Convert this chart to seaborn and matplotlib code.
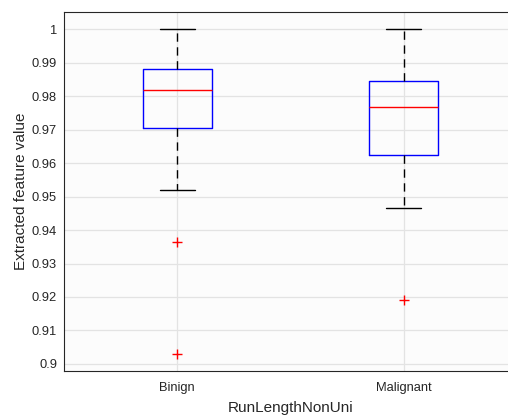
import numpy as np
import pandas as pd
import matplotlib
matplotlib.use("Agg")
import matplotlib.pyplot as plt
import seaborn as sns

categories = ["Binign", "Malignant"]
lower_whisker = [0.9519, 0.9466]
q1 = [0.9705, 0.9624]
median = [0.9818, 0.9767]
q3 = [0.9881, 0.9845]
upper_whisker = [1.0, 1.0]
outliers_binign = [0.9364, 0.9030]
outliers_malignant = [0.9191]
yticks = [0.9, 0.91, 0.92, 0.93, 0.94, 0.95, 0.96, 0.97, 0.98, 0.99, 1.0]

sns.set_theme(style="white")
plt.rcParams["font.family"] = ["Liberation Sans", "DejaVu Sans"]
text_color = "#262626"

rows = []
for i, c in enumerate(categories):
    for v in (lower_whisker[i], q1[i], median[i], q3[i], upper_whisker[i]):
        rows.append({"group": c, "value": v})
box_df = pd.DataFrame(rows)
out_df = pd.DataFrame(
    {"group": ["Binign"] * len(outliers_binign) + ["Malignant"] * len(outliers_malignant),
     "value": outliers_binign + outliers_malignant}
)

fig = plt.figure(figsize=(5.08, 4.17), dpi=100)
fig.patch.set_facecolor("white")
ax = fig.add_axes([64 / 508, 46 / 417, 453 / 508, 359 / 417])
ax.set_facecolor("#fcfcfc")

sns.boxplot(
    data=box_df, x="group", y="value", order=categories, ax=ax,
    fill=False, width=0.305, whis=(0, 100), linewidth=1,
    boxprops={"color": "#0000ff", "linewidth": 1},
    medianprops={"color": "#ff0000", "linewidth": 1},
    whiskerprops={"color": "#000000", "linestyle": (0, (6, 4)), "linewidth": 1},
    capprops={"color": "#000000", "linewidth": 1},
    showfliers=False,
)

# shrink caps to half the box width
for line in ax.lines:
    xd = np.asarray(line.get_xdata(), dtype=float)
    yd = np.asarray(line.get_ydata(), dtype=float)
    if len(xd) == 2 and yd[0] == yd[1] and line.get_color() in ("#000000", "k", "black", (0, 0, 0, 1)):
        cx = xd.mean()
        half = (xd[1] - xd[0]) / 2
        if half > 0.1:
            line.set_xdata([cx - half / 2, cx + half / 2])

sns.stripplot(
    data=out_df, x="group", y="value", order=categories, ax=ax,
    jitter=False, marker="+", color="#ff0000", size=6.5, linewidth=1,
)

ax.set_xlim(-0.5, 1.5)
ax.set_ylim(0.8979, 1.0051)
ax.set_yticks(yticks)
ax.set_yticklabels([f"{t:g}" for t in yticks])
ax.grid(True, color="#e3e3e3", linewidth=0.9)
ax.set_axisbelow(True)
ax.tick_params(axis="both", direction="in", length=3, width=0.8, colors=text_color,
               labelsize=9.3, labelcolor=text_color)
ax.tick_params(axis="y", pad=5)
ax.tick_params(axis="x", pad=8)
for side in ("top", "bottom", "left", "right"):
    ax.spines[side].set_color("#262626")
    ax.spines[side].set_linewidth(0.8)
ax.set_xlabel("RunLengthNonUni", fontsize=11, color=text_color, labelpad=5)
ax.set_ylabel("Extracted feature value", fontsize=11, color=text_color, labelpad=3)

fig.savefig("out.png", dpi=100, facecolor="white")
